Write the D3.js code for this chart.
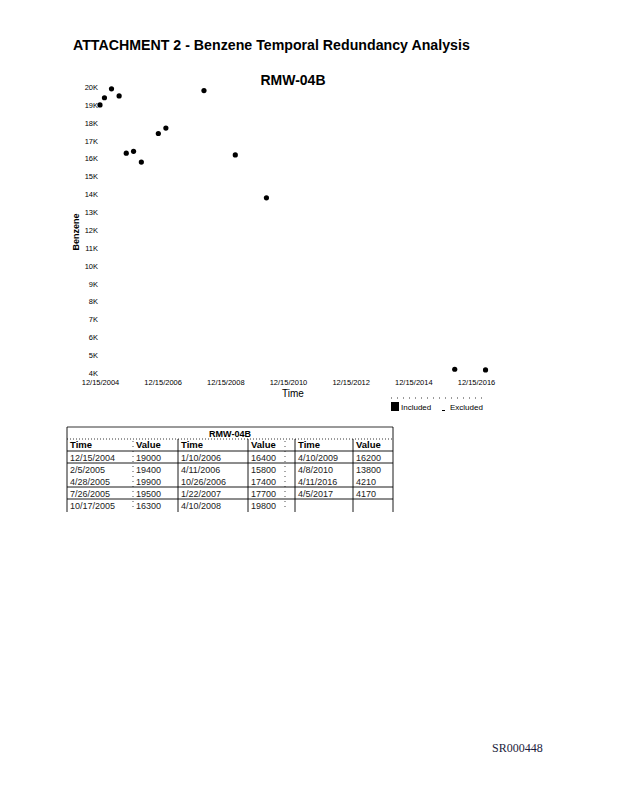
<!DOCTYPE html>
<html>
<head>
<meta charset="utf-8">
<script src="https://cdn.jsdelivr.net/npm/d3@7"></script>
<style>
  body { margin: 0; background: #fff; }
  svg { display: block; font-family: "Liberation Sans", Arial, sans-serif; }
  .axis path, .axis line { display: none; }
  .axis text { fill: #000; }
</style>
</head>
<body>
<svg id="page"></svg>
<script>
var sampleDates = ["12/15/2004", "2/5/2005", "4/28/2005", "7/26/2005", "10/17/2005",
                   "1/10/2006", "4/11/2006", "10/26/2006", "1/22/2007", "4/10/2008",
                   "4/10/2009", "4/8/2010", "4/11/2016", "4/5/2017"];
var benzeneValues = [19000, 19400, 19900, 19500, 16300,
                     16400, 15800, 17400, 17700, 19800,
                     16200, 13800, 4210, 4170];
var xTickLabels = ["12/15/2004", "12/15/2006", "12/15/2008", "12/15/2010",
                   "12/15/2012", "12/15/2014", "12/15/2016"];
var yTickValues = [4000, 5000, 6000, 7000, 8000, 9000, 10000, 11000, 12000,
                   13000, 14000, 15000, 16000, 17000, 18000, 19000, 20000];
var legendLabels = ["Included", "Excluded"];

var width = 618, height = 800;
var parseDate = d3.timeParse("%m/%d/%Y");

var svg = d3.select("#page")
    .attr("width", width)
    .attr("height", height);

// page header
svg.append("text")
  .attr("x", 73)
  .attr("y", 50)
  .style("font-size", "14.2px")
  .style("font-weight", "bold")
  .attr("fill", "#000")
  .text("ATTACHMENT 2 - Benzene Temporal Redundancy Analysis");

// chart title
svg.append("text")
  .attr("x", 293)
  .attr("y", 85)
  .attr("text-anchor", "middle")
  .style("font-size", "14px")
  .style("font-weight", "bold")
  .text("RMW-04B");

var x = d3.scaleTime()
    .domain([parseDate("12/15/2004"), parseDate("12/15/2016")])
    .range([100, 476]);
var y = d3.scaleLinear()
    .domain([4000, 20000])
    .range([373, 87]);

var tickFont = "'Liberation Sans Narrow', 'Liberation Sans', sans-serif";

// y axis (labels only)
var yAxis = svg.append("g")
    .attr("class", "axis")
    .attr("transform", "translate(98,0)")
    .call(d3.axisLeft(y)
        .tickValues(yTickValues)
        .tickSize(0)
        .tickPadding(0)
        .tickFormat(function(d) { return (d / 1000) + "K"; }));
yAxis.selectAll("text")
  .style("font-size", "7.5px")
  .style("font-family", tickFont);

// x axis (labels only)
var xAxis = svg.append("g")
    .attr("class", "axis")
    .attr("transform", "translate(0,380)")
    .call(d3.axisBottom(x)
        .tickValues(xTickLabels.map(parseDate))
        .tickSize(0)
        .tickPadding(0)
        .tickFormat(d3.timeFormat("%-m/%-d/%Y")));
xAxis.selectAll("text")
  .style("font-size", "7.5px")
  .style("font-family", tickFont);

svg.append("text")
  .attr("x", 293)
  .attr("y", 397)
  .attr("text-anchor", "middle")
  .style("font-size", "10px")
  .text("Time");

svg.append("text")
  .attr("transform", "translate(79,232) rotate(-90)")
  .attr("text-anchor", "middle")
  .style("font-size", "9px")
  .style("font-weight", "bold")
  .text("Benzene");

// points
svg.append("g").selectAll("circle")
  .data(sampleDates)
  .enter().append("circle")
  .attr("cx", function(d) { return x(parseDate(d)); })
  .attr("cy", function(d, i) { return y(benzeneValues[i]); })
  .attr("r", 2.6)
  .attr("fill", "#000");

// legend
var legend = svg.append("g");
legend.append("line")
  .attr("x1", 391).attr("x2", 482)
  .attr("y1", 398).attr("y2", 398)
  .attr("stroke", "#000")
  .attr("stroke-width", 0.8)
  .attr("stroke-dasharray", "1,5");
legend.append("rect")
  .attr("x", 391).attr("y", 402)
  .attr("width", 8).attr("height", 9)
  .attr("fill", "#000");
legend.append("text")
  .attr("x", 401).attr("y", 410)
  .style("font-size", "8px")
  .style("font-family", tickFont)
  .text(legendLabels[0]);
legend.append("line")
  .attr("x1", 442).attr("x2", 445)
  .attr("y1", 410.5).attr("y2", 410.5)
  .attr("stroke", "#000");
legend.append("text")
  .attr("x", 450).attr("y", 410)
  .style("font-size", "8px")
  .style("font-family", tickFont)
  .text(legendLabels[1]);

// data table: three Time/Value column pairs, filled column-wise
var colEdges = [67, 133, 178, 248, 295, 353, 393];
var rowTops = [427, 439, 451, 463, 475, 487, 499, 512];
var rowsPerCol = 5;
var table = svg.append("g")
    .style("font-size", "9px");

// title row
table.append("line")
  .attr("x1", 67).attr("x2", 393).attr("y1", 427).attr("y2", 427)
  .attr("stroke", "#000").attr("stroke-width", 0.8);
table.append("line")
  .attr("x1", 67).attr("x2", 393).attr("y1", 439).attr("y2", 439)
  .attr("stroke", "#000").attr("stroke-width", 0.8)
  .attr("stroke-dasharray", "1,2");
table.append("text")
  .attr("x", 230).attr("y", 436.5)
  .attr("text-anchor", "middle")
  .style("font-weight", "bold")
  .style("font-size", "9px")
  .text("RMW-04B");

// horizontal rules (none between rows 2 and 3, none at bottom)
[451, 463, 487, 499].forEach(function(yy) {
  table.append("line")
    .attr("x1", 67).attr("x2", 393).attr("y1", yy).attr("y2", yy)
    .attr("stroke", "#000").attr("stroke-width", 0.9);
});

// vertical rules
[67, 178, 248, 295, 353, 393].forEach(function(xx, i) {
  table.append("line")
    .attr("x1", xx).attr("x2", xx)
    .attr("y1", (i === 0 || i === 5) ? 427 : 439).attr("y2", 512)
    .attr("stroke", "#000").attr("stroke-width", 0.9);
});
// faint broken rules
[133, 285].forEach(function(xx) {
  table.append("line")
    .attr("x1", xx).attr("x2", xx)
    .attr("y1", 441).attr("y2", 510)
    .attr("stroke", "#000").attr("stroke-width", 0.7)
    .attr("stroke-dasharray", "1,4");
});

// header row
for (var c = 0; c < 3; c++) {
  table.append("text")
    .attr("x", colEdges[c * 2] + 3).attr("y", 448)
    .style("font-weight", "bold")
    .style("font-size", "9.5px")
    .text("Time");
  table.append("text")
    .attr("x", colEdges[c * 2 + 1] + 3).attr("y", 448)
    .style("font-weight", "bold")
    .style("font-size", "9.5px")
    .text("Value");
}

// body rows
sampleDates.forEach(function(d, i) {
  var c = Math.floor(i / rowsPerCol), r = i % rowsPerCol;
  var yy = rowTops[r + 2] + 9.5;
  table.append("text")
    .attr("x", colEdges[c * 2] + 3).attr("y", yy)
    .attr("fill", "#222")
    .text(d);
  table.append("text")
    .attr("x", colEdges[c * 2 + 1] + 3).attr("y", yy)
    .attr("fill", "#222")
    .text(benzeneValues[i]);
});

// page id
svg.append("text")
  .attr("x", 492).attr("y", 752)
  .style("font-family", "'Liberation Serif', 'Times New Roman', serif")
  .style("font-size", "12px")
  .attr("fill", "#1c1c3c")
  .text("SR000448");
</script>
</body>
</html>
